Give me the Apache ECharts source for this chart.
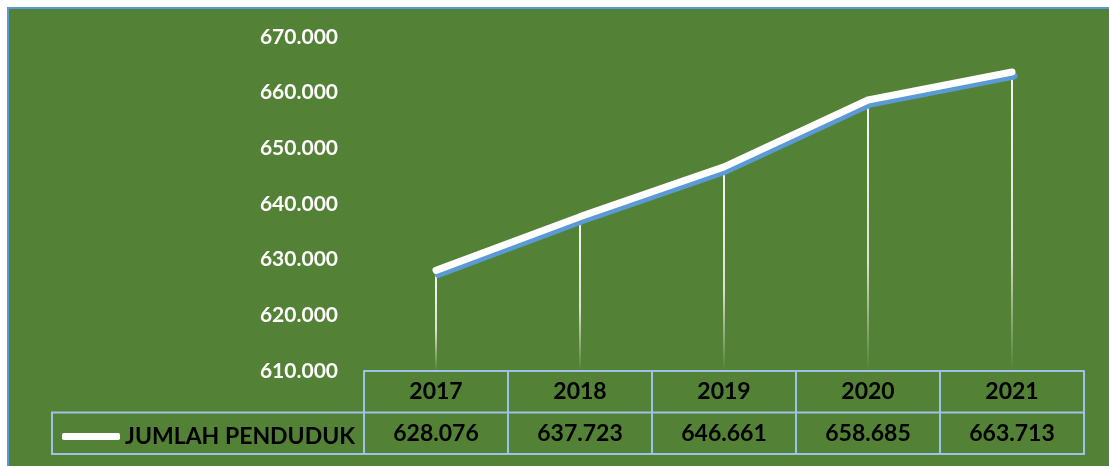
<!DOCTYPE html>
<html>
<head>
<meta charset="utf-8">
<script src="https://cdn.jsdelivr.net/npm/echarts@6/dist/echarts.min.js"></script>
<style>
  html, body { margin: 0; padding: 0; background: #fff; }
  #chart { width: 1109px; height: 466px; }
</style>
</head>
<body>
<div id="chart"></div>
<script>
// data
var years = ['2017', '2018', '2019', '2020', '2021']
var penduduk = [628076, 637723, 646661, 658685, 663713]
var seriesName = 'JUMLAH PENDUDUK'

var green = '#538135'
var tableLine = '#9dc3e6'
var font = 'Lato'

// table / grid layout
var gridLeft = 364
var gridRight = 1084
var axisY = 371
var rowH = 41.5

function fmt(v) {
  return (v / 1000).toFixed(3)
}

var chart = echarts.init(document.getElementById('chart'))
chart.setOption({
  backgroundColor: '#fff',
  animation: false,
  graphic: [
    {
      type: 'rect',
      z: -10,
      shape: { x: 8, y: 8, width: 1110, height: 470 },
      style: { fill: green, stroke: '#5b9bd5', lineWidth: 2 }
    },
    {
      // second row of data table + legend cell
      type: 'rect',
      z: 10,
      shape: { x: 52, y: axisY + rowH, width: gridRight - 52, height: rowH },
      style: { fill: 'none', stroke: tableLine, lineWidth: 2 }
    },
    {
      type: 'line',
      z: 10,
      shape: { x1: gridRight, y1: axisY, x2: gridRight, y2: axisY + 2 * rowH },
      style: { stroke: tableLine, lineWidth: 2 }
    }
  ],
  legend: {
    data: [seriesName],
    left: 57,
    top: 420,
    icon: 'roundRect',
    itemWidth: 58,
    itemHeight: 7,
    textStyle: { color: '#000', fontSize: 23, fontWeight: 'bold', fontFamily: font }
  },
  grid: {
    left: gridLeft,
    right: 1109 - gridRight,
    top: 37,
    bottom: 466 - axisY
  },
  xAxis: {
    type: 'category',
    data: years,
    boundaryGap: true,
    axisLine: { show: true, lineStyle: { color: tableLine, width: 2 } },
    axisTick: { show: true, length: 2 * rowH, lineStyle: { color: tableLine, width: 2 } },
    axisLabel: {
      margin: 0,
      formatter: function (v, i) {
        return '{y|' + v + '}\n{v|' + fmt(penduduk[i]) + '}'
      },
      rich: {
        y: { color: '#000', fontSize: 23, fontWeight: 'bold', fontFamily: font, lineHeight: rowH, align: 'center' },
        v: { color: '#000', fontSize: 23, fontWeight: 'bold', fontFamily: font, lineHeight: rowH, align: 'center' }
      }
    },
    splitLine: { show: false }
  },
  yAxis: {
    type: 'value',
    min: 610000,
    max: 670000,
    interval: 10000,
    axisLine: { show: false },
    axisTick: { show: false },
    splitLine: { show: false },
    axisLabel: {
      margin: 26,
      color: '#fff',
      fontSize: 21,
      fontWeight: 'bold',
      fontFamily: font,
      formatter: fmt
    }
  },
  series: [
    {
      name: 'drop',
      type: 'bar',
      data: penduduk,
      barWidth: 2,
      silent: true,
      itemStyle: {
        color: new echarts.graphic.LinearGradient(0, 0, 0, 1, [
          { offset: 0, color: 'rgba(255,255,255,0.95)' },
          { offset: 0.6, color: 'rgba(235,235,225,0.9)' },
          { offset: 1, color: 'rgba(235,235,225,0)' }
        ])
      }
    },
    {
      name: seriesName,
      type: 'line',
      data: penduduk,
      symbol: 'none',
      z: 5,
      itemStyle: { color: '#fff' },
      lineStyle: {
        color: '#fff',
        width: 7,
        cap: 'round',
        join: 'round',
        shadowColor: '#5b9bd5',
        shadowBlur: 0,
        shadowOffsetX: 2,
        shadowOffsetY: 4
      }
    }
  ]
})
</script>
</body>
</html>
